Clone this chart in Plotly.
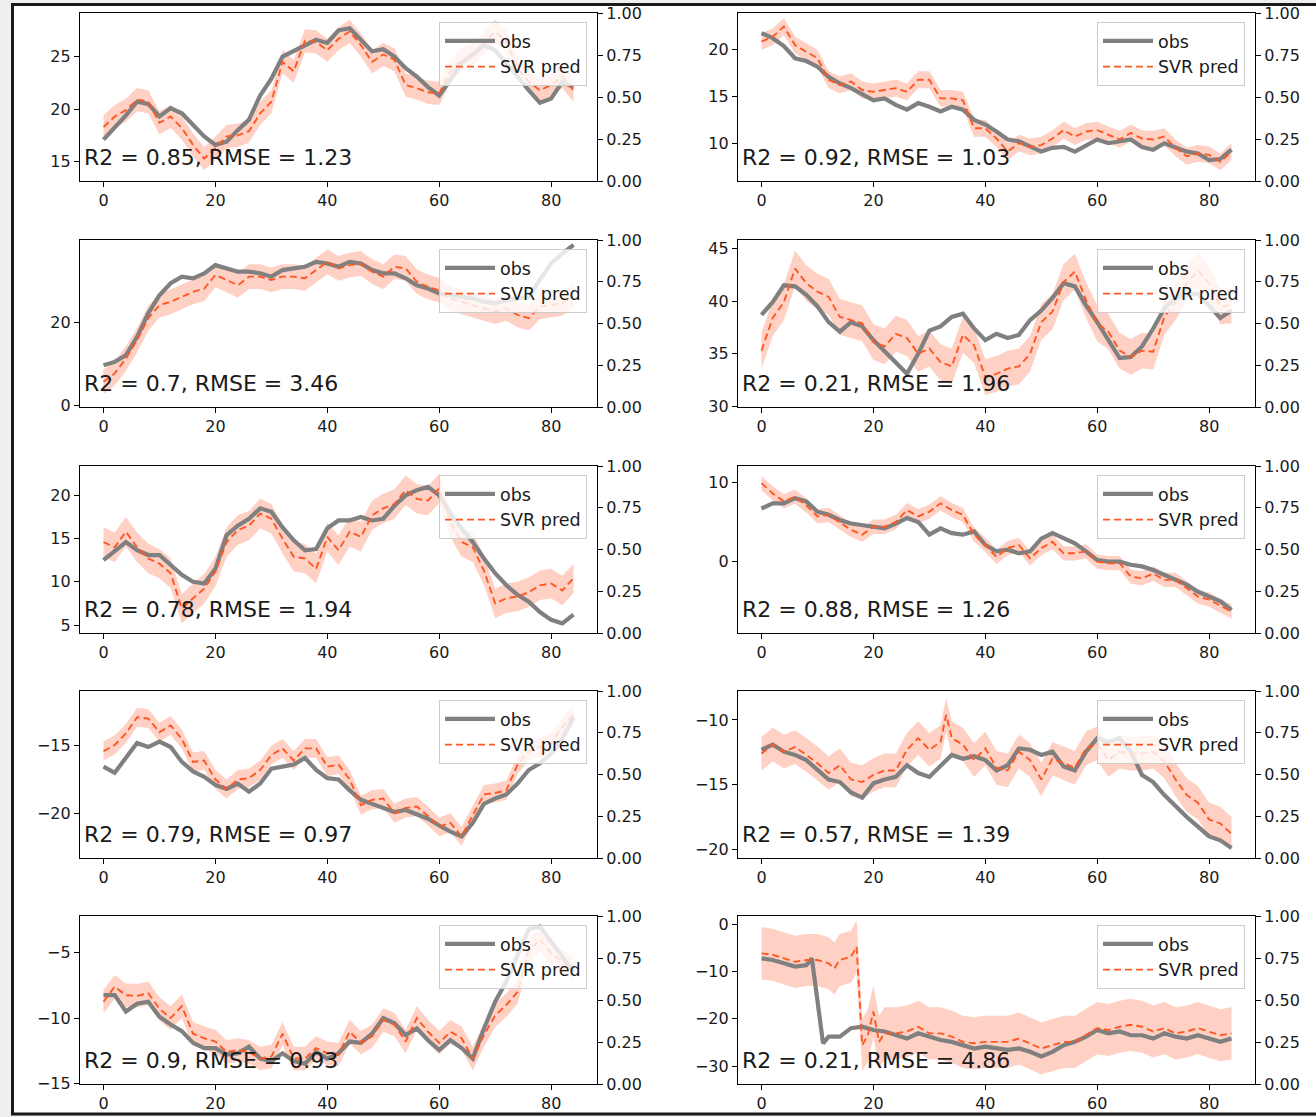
import plotly.graph_objects as go

# ---------------- data ----------------
X_EVEN = [0, 2, 4, 6, 8, 10, 12, 14, 16, 18, 20, 22, 24, 26, 28, 30, 32, 34, 36, 38, 40,
          42, 44, 46, 48, 50, 52, 54, 56, 58, 60, 62, 64, 66, 68, 70, 72, 74, 76, 78, 80, 82, 84]
X_PRED_8 = [0, 2, 4, 6, 8, 10, 12, 14, 16, 18, 20, 22, 24, 26, 28, 30, 32, 33, 34, 36, 38, 40,
            42, 44, 46, 48, 50, 52, 54, 56, 58, 60, 62, 64, 66, 68, 70, 72, 74, 76, 78, 80, 82, 84]
X_OBS_10 = [0, 2, 4, 6, 8, 9, 11, 12, 14, 16, 18, 20, 22, 24, 26, 28, 30, 32, 34, 36, 38, 40,
            42, 44, 46, 48, 50, 52, 54, 56, 58, 60, 62, 64, 66, 68, 70, 72, 74, 76, 78, 80, 82, 84]
X_PRED_10 = [0, 2, 4, 6, 8, 10, 12, 13, 14, 16, 17, 18, 19, 20, 21, 22, 24, 26, 28, 30, 32, 34,
             36, 38, 40, 42, 44, 46, 48, 50, 52, 54, 56, 58, 60, 62, 64, 66, 68, 70, 72, 74,
             76, 78, 80, 82, 84]

OBS_1 = [17.1, 18.2, 19.4, 20.7, 20.5, 19.3, 20.1, 19.6, 18.5, 17.4, 16.6, 16.9, 18.0, 19.0,
         21.3, 22.9, 25.0, 25.5, 26.1, 26.6, 26.3, 27.5, 27.7, 26.6, 25.5, 25.7, 25.0, 23.9,
         23.1, 22.1, 21.3, 22.8, 24.4, 25.2, 26.1, 25.6, 24.4, 23.1, 21.8, 20.6, 21.0, 22.6, 22.1]
PRED_1 = [18.3, 19.3, 19.9, 20.9, 20.7, 18.7, 19.3, 18.2, 16.6, 15.3, 16.3, 17.4, 17.5, 17.9,
          19.6, 20.7, 24.5, 23.6, 26.5, 26.4, 25.6, 26.7, 27.4, 26.1, 24.5, 25.2, 24.7, 22.3,
          22.0, 21.6, 21.5, 23.6, 24.7, 25.2, 26.3, 27.4, 26.4, 23.9, 22.6, 21.8, 22.3, 23.1, 21.8]

OBS_2 = [21.8, 21.25, 20.4, 19.1, 18.8, 18.2, 17.1, 16.4, 15.9, 15.2, 14.6, 14.8, 14.1, 13.6,
         14.3, 13.9, 13.4, 13.9, 13.6, 12.5, 12.0, 11.25, 10.4, 10.2, 9.6, 9.1, 9.5, 9.6, 9.1,
         9.8, 10.4, 10.0, 10.2, 10.4, 9.6, 9.3, 10.0, 9.5, 9.1, 8.9, 8.2, 8.3, 9.3]
PRED_2 = [20.9, 21.4, 22.5, 20.5, 19.8, 19.1, 16.8, 16.25, 16.6, 15.7, 15.5, 15.7, 15.9, 15.5,
          16.8, 16.8, 14.8, 14.8, 14.6, 11.6, 11.6, 10.5, 9.1, 10.0, 9.6, 9.8, 10.5, 11.4, 10.7,
          11.25, 11.4, 10.9, 10.4, 11.1, 10.5, 10.4, 10.7, 9.5, 8.6, 8.9, 8.75, 8.0, 9.1]

OBS_3 = [9.7, 10.5, 12.1, 16.6, 22.3, 26.7, 29.6, 31.2, 30.8, 32.0, 34.0, 33.2, 32.4, 32.4,
         32.0, 31.2, 32.8, 33.2, 33.6, 34.8, 34.4, 33.6, 34.8, 34.4, 32.8, 32.0, 32.0, 30.8,
         29.1, 28.3, 27.1, 26.7, 26.3, 25.9, 25.1, 24.7, 25.5, 25.9, 26.3, 30.4, 34.4, 36.8, 38.9]
PRED_3 = [5.7, 7.7, 11.3, 15.8, 21.1, 24.3, 25.1, 26.3, 27.5, 28.3, 31.6, 30.4, 29.1, 31.2,
          31.2, 30.4, 31.2, 31.2, 30.8, 32.8, 34.8, 33.2, 34.0, 34.4, 32.4, 31.2, 33.6, 33.2,
          29.96, 28.7, 27.9, 25.9, 25.1, 24.3, 23.5, 22.7, 23.5, 21.9, 21.1, 23.9, 24.3, 24.7, 26.7]

OBS_4 = [38.7, 39.9, 41.5, 41.4, 40.6, 39.5, 38.0, 37.1, 38.0, 37.6, 36.3, 35.2, 34.2, 33.1,
         35.0, 37.2, 37.6, 38.5, 38.8, 37.4, 36.3, 36.9, 36.5, 36.8, 38.2, 39.1, 40.3, 41.7,
         41.4, 39.6, 38.0, 36.3, 34.6, 34.7, 35.7, 37.4, 39.3, 40.3, 40.6, 40.7, 39.6, 38.4, 39.1]
PRED_4 = [35.3, 38.4, 39.9, 43.1, 41.7, 40.9, 40.4, 38.5, 38.2, 37.9, 36.1, 35.7, 36.9, 36.5,
          35.0, 35.5, 34.2, 33.8, 36.8, 35.8, 32.8, 33.1, 33.6, 33.8, 35.0, 38.0, 39.0, 41.8,
          42.8, 40.1, 37.9, 37.1, 35.3, 34.7, 35.3, 35.2, 38.5, 39.9, 41.7, 42.9, 41.7, 39.5, 39.6]

OBS_5 = [12.5, 13.5, 14.6, 13.65, 13.1, 13.1, 11.9, 10.8, 10.0, 9.8, 11.5, 15.4, 16.5, 17.3,
         18.5, 18.1, 16.3, 14.8, 13.65, 13.8, 16.2, 17.1, 17.1, 17.5, 17.1, 17.3, 18.8, 20.0,
         20.6, 21.0, 20.0, 17.9, 16.2, 14.6, 12.7, 11.0, 9.6, 8.5, 7.7, 6.5, 5.6, 5.2, 6.2]
PRED_5 = [14.6, 14.0, 15.8, 14.0, 12.7, 12.1, 11.0, 6.9, 8.1, 9.2, 11.2, 14.6, 16.0, 16.5,
          17.9, 17.3, 15.0, 12.9, 12.7, 11.5, 15.2, 13.65, 15.8, 15.2, 17.7, 18.5, 19.0, 20.6,
          19.6, 19.4, 20.8, 16.9, 14.6, 14.0, 11.3, 7.5, 8.1, 8.3, 8.8, 9.6, 9.8, 9.0, 10.4]

OBS_6 = [6.7, 7.35, 7.35, 8.0, 7.6, 6.3, 5.9, 5.25, 4.8, 4.6, 4.4, 4.2, 4.8, 5.5, 5.0, 3.4,
         4.2, 3.6, 3.4, 3.8, 2.1, 1.3, 1.5, 1.05, 1.3, 2.9, 3.6, 2.9, 2.3, 1.3, 0.2, 0.0, 0.0,
         -0.4, -0.6, -1.05, -1.7, -2.3, -2.9, -3.8, -4.4, -5.0, -6.1]
PRED_6 = [9.9, 8.6, 7.6, 8.2, 7.1, 5.7, 5.9, 5.0, 4.0, 3.4, 4.4, 4.4, 5.0, 6.5, 5.7, 6.3, 7.35,
          6.5, 5.9, 3.4, 2.1, 0.6, 1.7, 2.1, 0.4, 1.7, 2.5, 1.05, 1.05, 1.3, 0.0, -0.2, -0.2,
          -1.9, -2.1, -1.5, -2.3, -2.3, -3.4, -4.4, -4.8, -5.5, -6.3]

OBS_7 = [-16.55, -17.0, -15.9, -14.8, -15.1, -14.7, -15.1, -16.2, -16.9, -17.3, -17.9, -18.2,
         -17.8, -18.4, -17.8, -16.7, -16.55, -16.4, -15.9, -16.8, -17.4, -17.5, -18.3, -19.0,
         -19.3, -19.6, -19.9, -19.75, -20.1, -20.4, -20.9, -21.35, -21.7, -20.7, -19.3, -18.9,
         -18.6, -17.8, -16.8, -16.3, -15.6, -14.5, -12.9]
PRED_7 = [-15.4, -14.95, -14.1, -12.9, -13.0, -14.0, -13.5, -14.5, -16.2, -16.1, -17.5, -18.2,
          -17.5, -17.4, -16.8, -15.7, -15.2, -16.1, -15.2, -15.2, -16.55, -16.4, -17.5, -19.4,
          -19.0, -18.9, -20.0, -19.6, -19.5, -20.2, -21.0, -20.7, -21.7, -20.1, -18.6, -18.5,
          -18.3, -16.4, -15.4, -15.1, -14.8, -13.6, -12.7]

OBS_8 = [-12.3, -11.9, -12.45, -12.7, -13.1, -13.9, -14.6, -14.8, -15.6, -16.0, -14.9, -14.6,
         -14.4, -13.5, -14.1, -14.4, -13.6, -12.7, -13.0, -12.8, -13.1, -13.9, -13.5, -12.2,
         -12.3, -12.7, -12.45, -13.6, -13.9, -12.45, -11.4, -11.7, -11.4, -12.45, -14.25,
         -14.8, -15.8, -16.7, -17.5, -18.25, -19.0, -19.3, -19.9]
PRED_8 = [-12.6, -11.9, -12.45, -12.1, -12.7, -13.35, -14.1, -13.5, -14.6, -14.8, -14.25,
          -13.9, -13.9, -12.3, -11.4, -12.3, -11.7, -9.6, -11.4, -11.9, -13.1, -12.2, -13.7,
          -13.9, -12.45, -13.1, -14.6, -13.0, -13.35, -13.7, -12.2, -11.8, -13.1, -12.45, -12.6,
          -12.6, -12.45, -13.2, -14.6, -15.8, -16.4, -17.7, -18.0, -18.8]

OBS_9 = [-8.25, -8.25, -9.5, -8.9, -8.75, -9.9, -10.5, -11.0, -11.9, -12.3, -12.3, -12.8,
         -12.7, -12.2, -13.1, -13.3, -12.7, -13.3, -13.5, -12.6, -13.1, -12.7, -11.8, -11.9,
         -11.2, -10.0, -10.4, -11.3, -10.8, -11.7, -12.45, -11.7, -12.3, -13.1, -10.8, -8.75,
         -7.2, -5.2, -3.2, -3.0, -4.2, -5.3, -6.45]
PRED_9 = [-8.75, -7.6, -8.25, -8.3, -8.1, -9.3, -10.0, -9.1, -11.2, -11.55, -11.8, -12.6,
          -12.45, -12.6, -13.1, -12.95, -11.2, -13.1, -13.1, -12.3, -12.7, -12.8, -11.05, -11.9,
          -11.4, -10.15, -10.5, -11.8, -10.0, -11.05, -11.9, -11.05, -11.55, -13.1, -11.3, -9.8,
          -9.0, -8.0, -4.8, -4.0, -5.05, -5.7, -6.2]

OBS_10 = [-7.25, -7.6, -8.3, -9.0, -8.7, -7.25, -25.2, -23.8, -23.8, -22.0, -21.7, -22.4, -22.7,
          -23.5, -24.2, -23.1, -23.8, -24.5, -24.9, -25.6, -26.3, -25.9, -26.3, -26.6, -26.3,
          -27.0, -28.0, -27.0, -25.6, -24.9, -23.8, -22.4, -23.1, -22.7, -23.5, -23.5, -24.2,
          -23.1, -23.8, -24.2, -23.5, -24.2, -24.9, -24.2]
PRED_10 = [-6.2, -6.5, -7.25, -8.0, -7.6, -7.6, -8.3, -9.4, -7.6, -6.9, -4.8, -25.6, -23.5,
           -18.5, -24.9, -23.1, -23.1, -22.7, -21.7, -23.1, -23.1, -23.8, -24.9, -25.2, -24.9,
           -24.9, -24.9, -24.2, -25.2, -26.3, -25.6, -24.9, -24.9, -23.5, -22.0, -22.4, -21.7,
           -21.3, -21.7, -22.7, -22.0, -23.1, -22.7, -22.0, -22.7, -23.5, -23.1]

# prediction standard deviation (half-width of the shaded band) per panel
PRED_SD = [1.1, 0.9, 3.0, 1.7, 1.7, 0.9, 0.7, 1.3, 0.9, 5.5]

R2 = ["0.85", "0.92", "0.7", "0.21", "0.78", "0.88", "0.79", "0.57", "0.9", "0.21"]
RMSE = ["1.23", "1.03", "3.46", "1.96", "1.94", "1.26", "0.97", "1.39", "0.93", "4.86"]

Y_TICKS = [[15, 20, 25], [10, 15, 20], [0, 20], [30, 35, 40, 45], [5, 10, 15, 20],
           [0, 10], [-20, -15], [-20, -15, -10], [-15, -10, -5], [-30, -20, -10, 0]]
X_TICKS = [0, 20, 40, 60, 80]
RIGHT_TICKS = [0, 0.25, 0.5, 0.75, 1.0]

PANELS = [
    (X_EVEN, OBS_1, X_EVEN, PRED_1),
    (X_EVEN, OBS_2, X_EVEN, PRED_2),
    (X_EVEN, OBS_3, X_EVEN, PRED_3),
    (X_EVEN, OBS_4, X_EVEN, PRED_4),
    (X_EVEN, OBS_5, X_EVEN, PRED_5),
    (X_EVEN, OBS_6, X_EVEN, PRED_6),
    (X_EVEN, OBS_7, X_EVEN, PRED_7),
    (X_EVEN, OBS_8, X_PRED_8, PRED_8),
    (X_EVEN, OBS_9, X_EVEN, PRED_9),
    (X_OBS_10, OBS_10, X_PRED_10, PRED_10),
]

# ---------------- layout geometry / style ----------------
W, H = 1316, 1117
COL_L = [80, 738]
COL_R = [597, 1255]
ROW_T = [13, 240, 466, 691, 916]
ROW_B = [181, 407, 633, 858, 1084]
Y_RANGES = [[13.16, 29.15], [5.95, 23.95], [-0.45, 40.1], [29.95, 45.8], [4.08, 23.4],
            [-9.0, 12.06], [-23.3, -10.96], [-20.67, -7.76], [-15.05, -2.19], [-33.8, 1.69]]
X_RANGE = [-4.2, 88.2]

OBS_COLOR = "#808080"
PRED_COLOR = "#FF5722"
BAND_COLOR = "rgba(255,110,70,0.32)"
TXT = "#1a1a1a"
FONT = "DejaVu Sans"

fig = go.Figure()
layout = dict(
    width=W, height=H, autosize=False,
    margin=dict(l=0, r=0, t=0, b=0, autoexpand=False),
    paper_bgcolor="#efefef", plot_bgcolor="white",
    font=dict(family=FONT, color=TXT, size=16),
    showlegend=True,
    annotations=[],
    shapes=[dict(type="rect", xref="paper", yref="paper",
                 x0=12.5 / W, x1=1.05, y0=1 - 1114 / H, y1=1 - 4.5 / H,
                 line=dict(color="#1a1a1a", width=3), fillcolor="white", layer="below")],
)

for i, (xo, obs, xp, pred) in enumerate(PANELS):
    r, c = divmod(i, 2)
    n = i + 1
    xa = "x" if n == 1 else f"x{n}"
    ya = "y" if n == 1 else f"y{n}"
    ya2 = f"y{n + 10}"
    lg = "legend" if n == 1 else f"legend{n}"
    sd = PRED_SD[i]

    upper = [p + sd for p in pred]
    lower = [p - sd for p in pred]
    fig.add_trace(go.Scatter(
        x=list(xp) + list(xp)[::-1], y=upper + lower[::-1],
        xaxis=xa, yaxis=ya, fill="toself", fillcolor=BAND_COLOR,
        line=dict(width=0), mode="lines", showlegend=False, hoverinfo="skip"))
    fig.add_trace(go.Scatter(
        x=xo, y=obs, xaxis=xa, yaxis=ya, mode="lines", name="obs", legend=lg,
        line=dict(color=OBS_COLOR, width=4.2)))
    fig.add_trace(go.Scatter(
        x=xp, y=pred, xaxis=xa, yaxis=ya, mode="lines", name="SVR pred", legend=lg,
        line=dict(color=PRED_COLOR, width=1.9, dash="7px,4px")))
    fig.add_trace(go.Scatter(
        x=[None], y=[None], xaxis=xa, yaxis=ya2, mode="lines",
        showlegend=False, hoverinfo="skip"))

    axis_common = dict(showline=True, linecolor="black", linewidth=1.2, ticks="outside",
                       ticklen=5, tickwidth=1.2, tickcolor="black", showgrid=False,
                       zeroline=False, automargin=False,
                       tickfont=dict(size=16, family=FONT, color=TXT))
    layout["xaxis" if n == 1 else f"xaxis{n}"] = dict(
        domain=[COL_L[c] / W, COL_R[c] / W], range=X_RANGE, anchor=ya,
        tickvals=X_TICKS, mirror=True, **axis_common)
    layout["yaxis" if n == 1 else f"yaxis{n}"] = dict(
        domain=[1 - ROW_B[r] / H, 1 - ROW_T[r] / H], range=Y_RANGES[i], anchor=xa,
        tickvals=Y_TICKS[i], mirror=True, **axis_common)
    layout[f"yaxis{n + 10}"] = dict(
        overlaying=ya, side="right", anchor=xa, range=[0, 1],
        tickvals=RIGHT_TICKS, tickformat=".2f", **axis_common)
    layout[lg] = dict(
        x=(COL_R[c] - 10) / W, y=1 - (ROW_T[r] + 9) / H, xanchor="right", yanchor="top",
        bgcolor="rgba(255,255,255,0.8)", bordercolor="#cccccc", borderwidth=1,
        font=dict(size=17.5, family=FONT, color=TXT), tracegroupgap=0, itemwidth=50)
    layout["annotations"].append(dict(
        xref=f"{xa} domain", yref=f"{ya} domain", x=0.004, y=0.14,
        xanchor="left", yanchor="middle", showarrow=False,
        text=f"R2 = {R2[i]}, RMSE = {RMSE[i]}",
        font=dict(size=22, family=FONT, color=TXT)))

fig.update_layout(**layout)
fig.write_html("out.html", config={"displayModeBar": False},
               post_script="document.body.style.margin='0';document.body.style.padding='0';")
